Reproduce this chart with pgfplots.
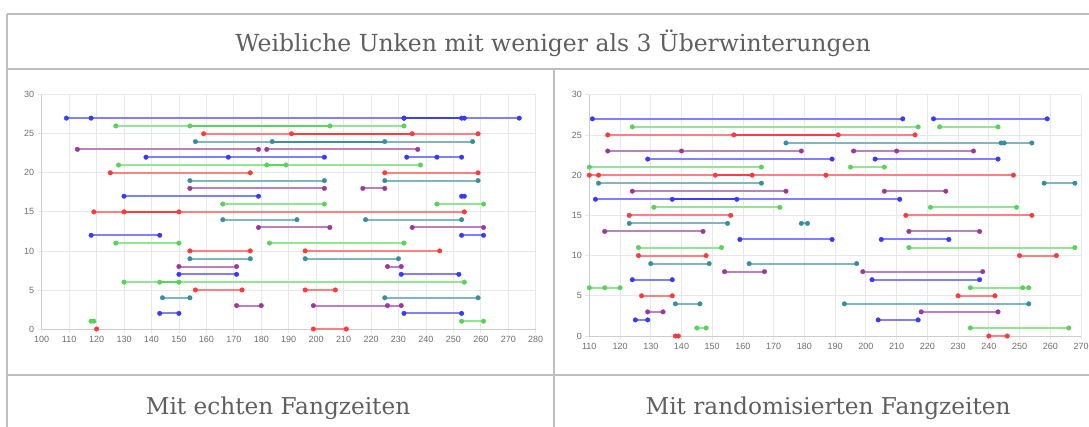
\documentclass[border=0pt]{standalone}
\usepackage{fontspec}
\setmainfont{DejaVu Serif}
\newfontfamily\tickfont{Liberation Sans}
\usepackage{pgfplots}
\pgfplotsset{compat=1.18}
\definecolor{cR}{RGB}{255,0,0}
\definecolor{cB}{RGB}{0,0,255}
\definecolor{cG}{RGB}{40,200,40}
\definecolor{cP}{RGB}{128,0,128}
\definecolor{cT}{RGB}{0,110,128}
\definecolor{txt}{RGB}{95,95,95}
\definecolor{brd}{RGB}{190,190,190}
\definecolor{grd}{RGB}{232,232,232}
\definecolor{axl}{RGB}{205,205,205}
\definecolor{tkl}{RGB}{110,110,110}
\pgfplotsset{
  seg/.style={line width=2pt, draw=#1!50!white, mark=*, mark size=2.3pt,
    mark options={fill=#1!78!white, draw=#1!78!white, line width=0.3pt}},
  ov/.style={line width=2pt, draw=#1!76!white, mark=none},
  sR/.style={seg=cR},
  sB/.style={seg=cB},
  sG/.style={seg=cG},
  sP/.style={seg=cP},
  sT/.style={seg=cT},
  panel/.style={scale only axis, anchor=south west, clip=false,
    ymin=0, ymax=30, ytick={0,5,...,30},
    axis lines*=left, axis line style={-, axl, line width=1pt},
    grid=major, major grid style={grd, line width=0.8pt},
    tick align=outside, major tick length=4pt, tick style={grd, line width=0.8pt},
    tick label style={font=\tickfont\fontsize{9}{10}\selectfont, text=tkl},
    /pgf/number format/assume math mode=true,
    /pgf/number format/1000 sep={}}
}
\begin{document}
\begin{tikzpicture}
\useasboundingbox (0pt,0pt) rectangle (1089pt,-426pt);
\fill[white] (0pt,0pt) rectangle (1089pt,-426pt);
% table borders
\begin{scope}[brd, line width=2pt]
\draw (7pt,-13.5pt) -- (1100pt,-13.5pt);
\draw (7pt,-13.5pt) -- (7pt,-430pt);
\draw (7pt,-69pt) -- (1100pt,-69pt);
\draw (7pt,-375pt) -- (1100pt,-375pt);
\draw (553.5pt,-69pt) -- (553.5pt,-430pt);
\end{scope}
\node[anchor=base, text=txt, font=\fontsize{23.5}{27}\selectfont, inner sep=0pt] at (553pt,-51pt) {Weibliche Unken mit weniger als 3 Überwinterungen};
\node[anchor=base, text=txt, font=\fontsize{23.2}{27}\selectfont, inner sep=0pt] at (278pt,-414pt) {Mit echten Fangzeiten};
\node[anchor=base, text=txt, font=\fontsize{23.2}{27}\selectfont, inner sep=0pt] at (828pt,-414pt) {Mit randomisierten Fangzeiten};

% left panel
\begin{axis}[panel, at={(41.7pt,-329pt)}, width=494pt, height=234.3pt,
  xmin=100, xmax=280, xtick={100,110,...,280}]
\addplot[sB] coordinates {(109,27) (118,27) (232,27) (254,27)};
\addplot[sB] coordinates {(232,27) (253,27) (274,27)};
\addplot[ov=cB] coordinates {(232,27) (254,27)};
\addplot[sG] coordinates {(127,26) (205,26)};
\addplot[sG] coordinates {(154,26) (232,26)};
\addplot[ov=cG] coordinates {(154,26) (205,26)};
\addplot[sR] coordinates {(159,25) (235,25)};
\addplot[sR] coordinates {(191,25) (259,25)};
\addplot[ov=cR] coordinates {(191,25) (235,25)};
\addplot[sT] coordinates {(156,24) (225,24)};
\addplot[sT] coordinates {(184,24) (257,24)};
\addplot[ov=cT] coordinates {(184,24) (225,24)};
\addplot[sP] coordinates {(113,23) (179,23)};
\addplot[sP] coordinates {(182,23) (237,23)};
\addplot[sB] coordinates {(138,22) (168,22) (203,22)};
\addplot[sB] coordinates {(233,22) (244,22) (253,22)};
\addplot[sG] coordinates {(128,21) (189,21)};
\addplot[sG] coordinates {(182,21) (238,21)};
\addplot[ov=cG] coordinates {(182,21) (189,21)};
\addplot[sR] coordinates {(125,20) (176,20)};
\addplot[sR] coordinates {(225,20) (259,20)};
\addplot[sT] coordinates {(154,19) (203,19)};
\addplot[sT] coordinates {(225,19) (259,19)};
\addplot[sP] coordinates {(154,18) (203,18)};
\addplot[sP] coordinates {(217,18) (225,18)};
\addplot[sB] coordinates {(130,17) (179,17)};
\addplot[sB] coordinates {(253,17) (254,17)};
\addplot[sG] coordinates {(166,16) (203,16)};
\addplot[sG] coordinates {(244,16) (261,16)};
\addplot[sR] coordinates {(119,15) (150,15)};
\addplot[sR] coordinates {(130,15) (254,15)};
\addplot[ov=cR] coordinates {(130,15) (150,15)};
\addplot[sT] coordinates {(166,14) (193,14)};
\addplot[sT] coordinates {(218,14) (253,14)};
\addplot[sP] coordinates {(179,13) (205,13)};
\addplot[sP] coordinates {(235,13) (261,13)};
\addplot[sB] coordinates {(118,12) (143,12)};
\addplot[sB] coordinates {(253,12) (261,12)};
\addplot[sG] coordinates {(127,11) (150,11)};
\addplot[sG] coordinates {(183,11) (232,11)};
\addplot[sR] coordinates {(154,10) (176,10)};
\addplot[sR] coordinates {(196,10) (245,10)};
\addplot[sT] coordinates {(154,9) (176,9)};
\addplot[sT] coordinates {(196,9) (230,9)};
\addplot[sP] coordinates {(150,8) (171,8)};
\addplot[sP] coordinates {(226,8) (231,8)};
\addplot[sB] coordinates {(150,7) (171,7)};
\addplot[sB] coordinates {(231,7) (252,7)};
\addplot[sG] coordinates {(130,6) (150,6)};
\addplot[sG] coordinates {(143,6) (254,6)};
\addplot[ov=cG] coordinates {(143,6) (150,6)};
\addplot[sR] coordinates {(156,5) (173,5)};
\addplot[sR] coordinates {(196,5) (207,5)};
\addplot[sT] coordinates {(144,4) (154,4)};
\addplot[sT] coordinates {(225,4) (259,4)};
\addplot[sP] coordinates {(171,3) (180,3)};
\addplot[sP] coordinates {(199,3) (226,3) (231,3)};
\addplot[sB] coordinates {(143,2) (150,2)};
\addplot[sB] coordinates {(232,2) (253,2)};
\addplot[sG] coordinates {(118,1) (119,1)};
\addplot[sG] coordinates {(253,1) (261,1)};
\addplot[sR] coordinates {(120,0)};
\addplot[sR] coordinates {(199,0) (211,0)};
\end{axis}

% right panel
\begin{axis}[panel, at={(589.3pt,-336pt)}, width=491.7pt, height=241.3pt,
  xmin=110, xmax=270, xtick={110,120,...,270}]
\addplot[sB] coordinates {(111,27) (212,27)};
\addplot[sB] coordinates {(222,27) (259,27)};
\addplot[sG] coordinates {(124,26) (217,26)};
\addplot[sG] coordinates {(224,26) (243,26)};
\addplot[sR] coordinates {(116,25) (191,25)};
\addplot[sR] coordinates {(157,25) (216,25)};
\addplot[ov=cR] coordinates {(157,25) (191,25)};
\addplot[sT] coordinates {(174,24) (245,24)};
\addplot[sT] coordinates {(244,24) (254,24)};
\addplot[sP] coordinates {(116,23) (140,23) (179,23)};
\addplot[sP] coordinates {(196,23) (210,23) (235,23)};
\addplot[sB] coordinates {(129,22) (189,22)};
\addplot[sB] coordinates {(203,22) (243,22)};
\addplot[sG] coordinates {(110,21) (166,21)};
\addplot[sG] coordinates {(195,21) (206,21)};
\addplot[sR] coordinates {(110,20) (113,20) (163,20)};
\addplot[sR] coordinates {(151,20) (187,20) (248,20)};
\addplot[ov=cR] coordinates {(151,20) (163,20)};
\addplot[sT] coordinates {(113,19) (166,19)};
\addplot[sT] coordinates {(258,19) (268,19)};
\addplot[sP] coordinates {(124,18) (174,18)};
\addplot[sP] coordinates {(206,18) (226,18)};
\addplot[sB] coordinates {(112,17) (158,17)};
\addplot[sB] coordinates {(137,17) (211,17)};
\addplot[ov=cB] coordinates {(137,17) (158,17)};
\addplot[sG] coordinates {(131,16) (172,16)};
\addplot[sG] coordinates {(221,16) (249,16)};
\addplot[sR] coordinates {(123,15) (156,15)};
\addplot[sR] coordinates {(213,15) (254,15)};
\addplot[sT] coordinates {(123,14) (155,14)};
\addplot[sT] coordinates {(179,14) (181,14)};
\addplot[sP] coordinates {(115,13) (147,13)};
\addplot[sP] coordinates {(214,13) (237,13)};
\addplot[sB] coordinates {(159,12) (189,12)};
\addplot[sB] coordinates {(205,12) (227,12)};
\addplot[sG] coordinates {(126,11) (153,11)};
\addplot[sG] coordinates {(214,11) (268,11)};
\addplot[sR] coordinates {(126,10) (148,10)};
\addplot[sR] coordinates {(250,10) (262,10)};
\addplot[sT] coordinates {(130,9) (149,9)};
\addplot[sT] coordinates {(162,9) (197,9)};
\addplot[sP] coordinates {(154,8) (167,8)};
\addplot[sP] coordinates {(199,8) (238,8)};
\addplot[sB] coordinates {(124,7) (137,7)};
\addplot[sB] coordinates {(202,7) (237,7)};
\addplot[sG] coordinates {(110,6) (115,6) (120,6)};
\addplot[sG] coordinates {(234,6) (251,6) (253,6)};
\addplot[sR] coordinates {(127,5) (137,5)};
\addplot[sR] coordinates {(230,5) (242,5)};
\addplot[sT] coordinates {(138,4) (146,4)};
\addplot[sT] coordinates {(193,4) (253,4)};
\addplot[sP] coordinates {(129,3) (134,3)};
\addplot[sP] coordinates {(218,3) (243,3)};
\addplot[sB] coordinates {(125,2) (129,2)};
\addplot[sB] coordinates {(204,2) (217,2)};
\addplot[sG] coordinates {(145,1) (148,1)};
\addplot[sG] coordinates {(234,1) (266,1)};
\addplot[sR] coordinates {(138,0) (139,0)};
\addplot[sR] coordinates {(240,0) (246,0)};
\end{axis}
\end{tikzpicture}
\end{document}
